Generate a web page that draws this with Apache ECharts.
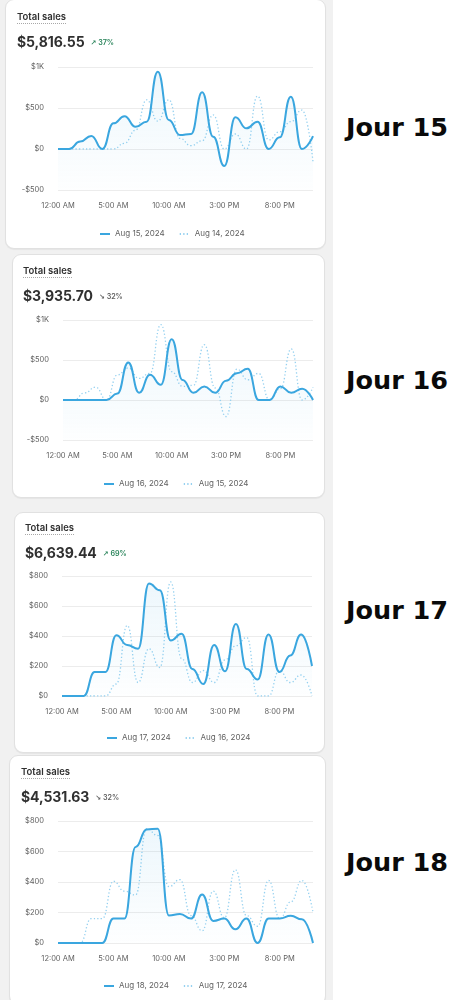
<!DOCTYPE html>
<html><head><meta charset="utf-8">
<script src="https://cdn.jsdelivr.net/npm/echarts@6/dist/echarts.min.js"></script>
<style>
html,body{margin:0;padding:0;width:467px;height:1000px;overflow:hidden;background:#fff;font-family:Inter,"Noto Sans",sans-serif;}
#strip{position:absolute;left:0;top:0;width:333px;height:1000px;background:#f1f1f1;}
.card{position:absolute;background:#fff;border:1px solid #e1e1e1;border-radius:9px;box-shadow:0 1px 1px rgba(0,0,0,0.05);overflow:hidden;box-sizing:border-box;}
.title{position:absolute;font-size:9.5px;font-weight:600;color:#303030;border-bottom:1px dotted #a8a8a8;line-height:11px;padding-bottom:1px;white-space:nowrap;}
.amount{position:absolute;font-size:14px;font-weight:700;color:#303030;line-height:18px;white-space:nowrap;letter-spacing:-0.1px;}
.badge{font-size:7.2px;font-weight:600;margin-left:6px;vertical-align:2px;}
.up{color:#29845a}.down{color:#616161}
.arrow{font-family:"DejaVu Sans";font-size:7px;font-weight:bold;margin-right:2px;}
.chart{position:absolute;left:0;top:0;}
.jour{position:absolute;left:346px;font-family:"DejaVu Sans";font-weight:bold;font-size:25.5px;color:#0a0a0a;line-height:30px;white-space:nowrap;}
</style></head>
<body>
<div id="strip"></div>
<script>
// ---- DATA ----
const hours = ['12:00 AM','1:00 AM','2:00 AM','3:00 AM','4:00 AM','5:00 AM','6:00 AM','7:00 AM','8:00 AM','9:00 AM','10:00 AM','11:00 AM','12:00 PM','1:00 PM','2:00 PM','3:00 PM','4:00 PM','5:00 PM','6:00 PM','7:00 PM','8:00 PM','9:00 PM','10:00 PM','11:00 PM'];
const aug14 = [0,0,0,0,0,0,70,230,600,340,600,130,40,100,415,0,183,0,646,110,210,333,475,-155];
const aug15 = [0,0,90,160,0,313,400,270,333,943,354,170,183,691,150,-207,386,252,333,0,142,638,0,158];
const aug16 = [0,0,0,0,0,80,470,90,315,190,760,250,90,170,90,240,335,390,0,0,170,90,140,0];
const aug17 = [0,0,0,160,160,405,340,315,750,705,370,415,180,80,340,165,480,180,110,410,160,270,410,200];
const aug18 = [0,0,0,0,0,160,160,630,745,750,180,190,160,318,145,160,90,160,0,160,160,178,155,0];
const dateNames = ['Aug 14, 2024','Aug 15, 2024','Aug 16, 2024','Aug 17, 2024','Aug 18, 2024'];
const totals = ['$5,816.55','$3,935.70','$6,639.44','$4,531.63'];
const changes = ['37%','32%','69%','32%'];
const directions = ['up','down','up','down'];
const dayLabels = ['Jour 15','Jour 16','Jour 17','Jour 18'];
const ticksWide = [-500,0,500,1000];
const ticksNarrow = [0,200,400,600,800];
const seriesByDate = [aug14, aug15, aug16, aug17, aug18];

// ---- LAYOUT (positions only) ----
const layouts = [
  {x:5, y:-1, w:321, h:250, tx:11, ty:11, ay:33, grid:{left:52,top:67,width:255,height:123}, legendLeft:88, legendTop:225, jourY:112, ticks:ticksWide},
  {x:12, y:254, w:313, h:244, tx:10, ty:10, ay:32, grid:{left:50,top:65,width:250,height:120}, legendLeft:85, legendTop:220, jourY:365, ticks:ticksWide},
  {x:14, y:512, w:311, h:241, tx:10, ty:9, ay:31, grid:{left:47,top:63,width:250,height:120}, legendLeft:86, legendTop:216, jourY:595, ticks:ticksNarrow},
  {x:9, y:755, w:317, h:250, tx:11, ty:10, ay:32, grid:{left:48,top:65,width:255,height:122}, legendLeft:88, legendTop:221, jourY:847, ticks:ticksNarrow}
];

const SOLID = '#3aa6df';
const DOTTED = '#96d1f0';

function fmt(v){
  if (v >= 1000) return '$' + (v/1000) + 'K';
  if (v < 0) return '-$' + (-v);
  return '$' + v;
}

layouts.forEach((L, i) => {
  const card = document.createElement('div');
  card.className = 'card';
  card.style.cssText = `left:${L.x}px;top:${L.y}px;width:${L.w}px;height:${L.h}px;`;
  document.body.appendChild(card);

  const chartDiv = document.createElement('div');
  chartDiv.className = 'chart';
  chartDiv.style.width = (L.w - 2) + 'px';
  chartDiv.style.height = (L.h - 2) + 'px';
  card.appendChild(chartDiv);

  const t = document.createElement('div');
  t.className = 'title';
  t.style.left = L.tx + 'px'; t.style.top = L.ty + 'px';
  t.textContent = 'Total sales';
  card.appendChild(t);

  const a = document.createElement('div');
  a.className = 'amount';
  a.style.left = L.tx + 'px'; a.style.top = L.ay + 'px';
  const up = directions[i] === 'up';
  a.innerHTML = totals[i] + `<span class="badge ${up ? 'up' : 'down'}"><span class="arrow">${up ? '↗' : '↘'}</span>${changes[i]}</span>`;
  card.appendChild(a);

  const j = document.createElement('div');
  j.className = 'jour';
  j.style.top = L.jourY + 'px';
  j.textContent = dayLabels[i];
  document.body.appendChild(j);

  const cur = seriesByDate[i + 1];
  const prev = seriesByDate[i];
  const curName = dateNames[i + 1];
  const prevName = dateNames[i];
  const tk = L.ticks;

  const chart = echarts.init(chartDiv, null, {renderer: 'canvas'});
  chart.setOption({
    animation: false,
    grid: L.grid,
    legend: {
      left: L.legendLeft, top: L.legendTop,
      data: [curName, prevName],
      itemWidth: 10, itemHeight: 10, itemGap: 14,
      itemStyle: {opacity: 0},
      textStyle: {fontSize: 8, color: '#616161', fontFamily: 'Inter'}
    },
    xAxis: {
      type: 'category', data: hours, boundaryGap: false,
      axisLine: {show: false}, axisTick: {show: false},
      axisLabel: {interval: 4, fontSize: 7.5, color: '#616161', margin: 12, fontFamily: 'Inter'}
    },
    yAxis: {
      type: 'value', min: tk[0], max: tk[tk.length - 1], interval: tk[1] - tk[0],
      axisLine: {show: false}, axisTick: {show: false},
      axisLabel: {fontSize: 7.5, color: '#616161', margin: 14, formatter: fmt, fontFamily: 'Inter'},
      splitLine: {lineStyle: {color: '#ececec', width: 1}}
    },
    series: [
      {
        name: curName, type: 'line', data: cur, smooth: 0.5, smoothMonotone: 'x',
        symbol: 'none', z: 3,
        lineStyle: {color: SOLID, width: 2},
        itemStyle: {color: SOLID},
        areaStyle: {origin: 'start', color: new echarts.graphic.LinearGradient(0,0,0,1,[
          {offset: 0, color: 'rgba(58,166,223,0.13)'},
          {offset: 1, color: 'rgba(58,166,223,0.01)'}
        ])}
      },
      {
        name: prevName, type: 'line', data: prev, smooth: 0.5, smoothMonotone: 'x',
        symbol: 'none', z: 2,
        lineStyle: {color: DOTTED, width: 1.3, type: [1.3, 2.2]},
        itemStyle: {color: DOTTED}
      }
    ]
  });
});
</script>
</body></html>
